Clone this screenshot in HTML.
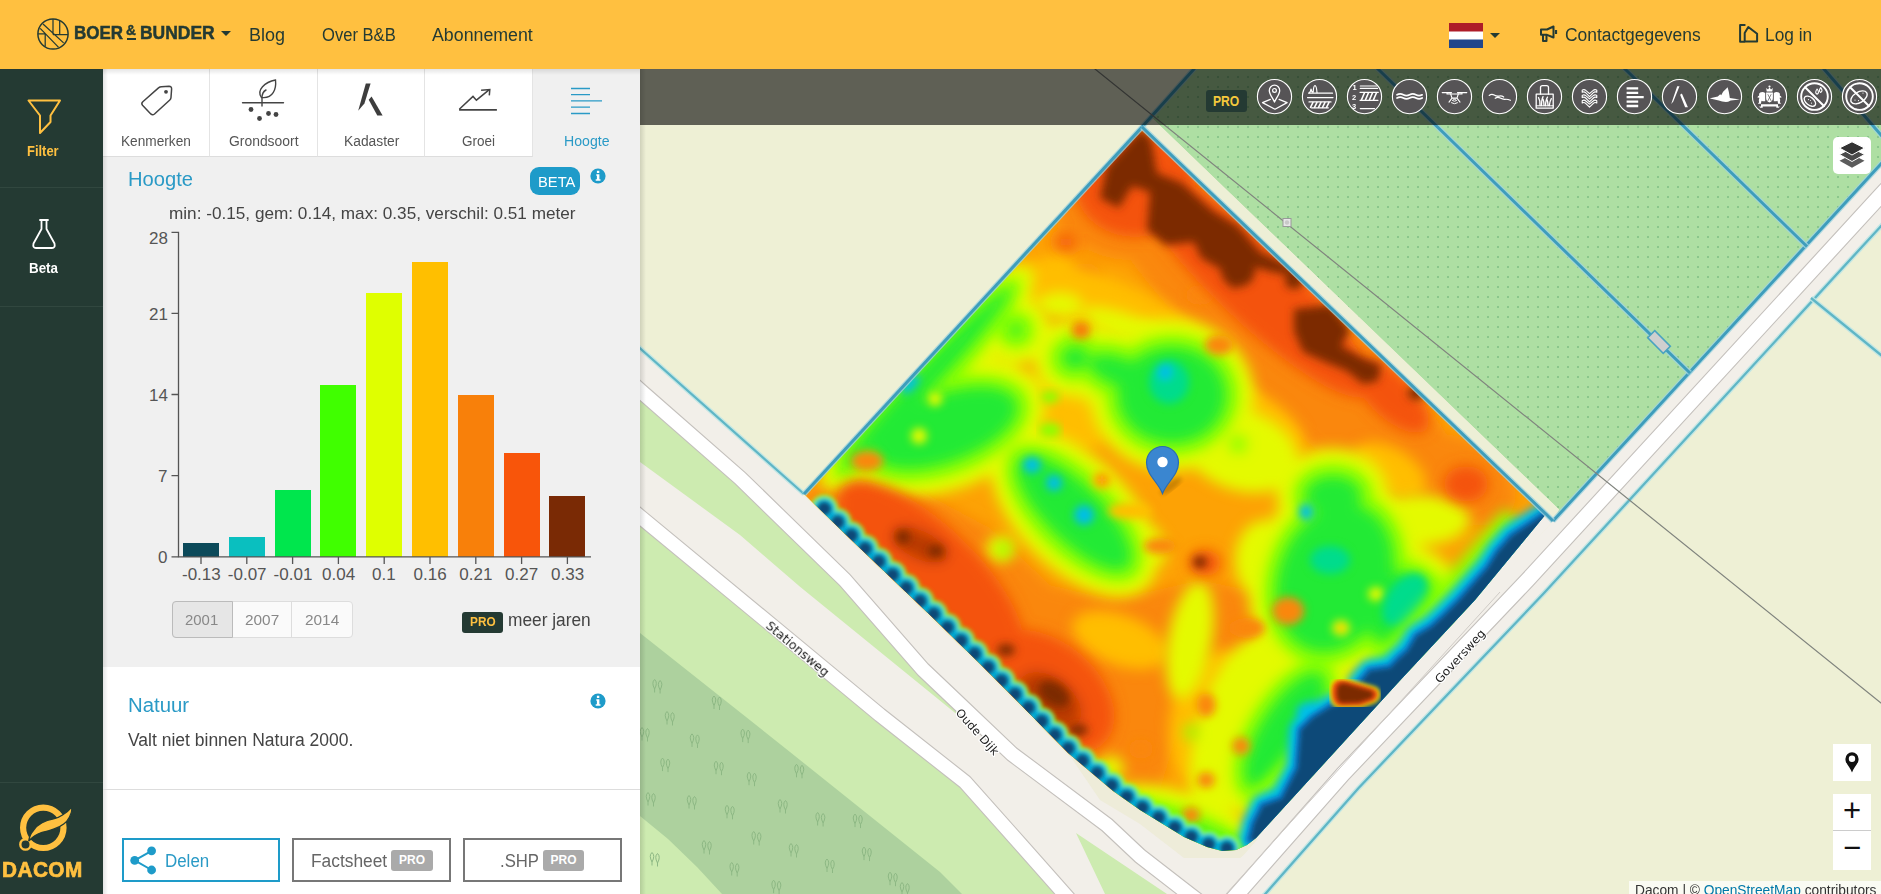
<!DOCTYPE html>
<html lang="nl">
<head>
<meta charset="utf-8">
<title>Boer&amp;Bunder</title>
<style>
*{box-sizing:border-box;margin:0;padding:0}
html,body{width:1881px;height:894px;overflow:hidden;background:#fff;font-family:"Liberation Sans",sans-serif;color:#444}
.abs{position:absolute}
.t{position:absolute;white-space:nowrap;line-height:1;transform-origin:0 0}
#hdr{position:absolute;left:0;top:0;width:1881px;height:69px;background:#FFC040;z-index:5}
#hdr .t{color:#243A33;font-size:18px}
#side{position:absolute;left:0;top:69px;width:103px;height:825px;background:#243A33}
#side .sep{position:absolute;left:0;width:103px;height:1px;background:#31473F}
#panel{position:absolute;left:103px;top:69px;width:537px;height:825px;background:#fff;overflow:hidden}
.tab{position:absolute;top:0;height:88px;width:107.4px;background:#fff;border-bottom:1px solid #ddd;border-right:1px solid #e4e4e4}
.tab.act{background:#F0F0F0;border:none}
.tab .t{font-size:14px;color:#555}
.tab.act .t{color:#2A9AC6}
#hoogte{position:absolute;left:0;top:88px;width:537px;height:510px;background:#F0F0F0}
.blue{color:#2A9AC6}
.axl{font-size:17px;color:#555}
#map{position:absolute;left:640px;top:69px;width:1241px;height:825px;overflow:hidden;background:#EEF0D5}
.btn{position:absolute;top:768.5px;height:44px;border:2px solid #777;background:#fff}
.pro2{position:absolute;background:#aaa;color:#fff;font-weight:bold;font-size:12px;border-radius:3px;height:21px;line-height:21px;text-align:center}
</style>
</head>
<body>

<!-- ================= HEADER ================= -->
<div id="hdr">
  <svg class="abs" style="left:36px;top:16.5px" width="34" height="34" viewBox="-17 -17 34 34" fill="none" stroke="#243A33" stroke-width="1.25">
    <circle cx="0" cy="0" r="15.1" stroke-width="1.5"/>
    <path d="M-12.8 -5.6 L5.6 13.4 M-10 -10 L10.6 8.9 M0 -15 V0.5 M6.7 -13.4 V0.5 M0 0.5 H15 M-15 -0.2 H-8.4 M-7.8 0 V12.6"/>
  </svg>
  <span class="t" id="br1" style="left:74.2px;top:24px;font-size:18.6px;font-weight:bold;-webkit-text-stroke:0.5px #243A33;transform:scaleX(0.9119)">BOER</span>
  <span class="t" id="br2" style="left:126.1px;top:23px;font-size:14.5px;font-weight:bold;-webkit-text-stroke:0.4px #243A33;transform:scaleX(0.9443)">&amp;</span>
  <div class="abs" style="left:126.6px;top:38.4px;width:9px;height:1.7px;background:#243A33"></div>
  <span class="t" id="br3" style="left:139.5px;top:24px;font-size:18.6px;font-weight:bold;-webkit-text-stroke:0.5px #243A33;transform:scaleX(0.9391)">BUNDER</span>
  <svg class="abs" style="left:221px;top:31px" width="10" height="5"><path d="M0 0h10l-5 5z" fill="#243A33"/></svg>
  <span class="t" id="n1" style="left:249.2px;top:26.0px;transform:scaleX(0.9991)">Blog</span>
  <span class="t" id="n2" style="left:321.6px;top:26.0px;transform:scaleX(0.9209)">Over B&amp;B</span>
  <span class="t" id="n3" style="left:431.9px;top:26.0px;transform:scaleX(0.9875)">Abonnement</span>

  <svg class="abs" style="left:1449px;top:23px" width="34" height="25"><rect width="34" height="9" fill="#AE1C28"/><rect y="8.5" width="34" height="8.5" fill="#fff"/><rect y="16.5" width="34" height="8.5" fill="#21468B"/></svg>
  <svg class="abs" style="left:1490px;top:33px" width="10" height="5"><path d="M0 0h10l-5 5z" fill="#243A33"/></svg>
  <svg class="abs" style="left:1539px;top:25px" width="19" height="18" viewBox="0 0 19 18" fill="none" stroke="#243A33" stroke-width="2" stroke-linejoin="round">
    <path d="M2 4.5 H8 L14.5 1.5 V12.5 L8 9.8 H2 Z"/><path d="M4 10 V16 H7.5 V10"/><path d="M17 5v4" stroke-width="2.2"/>
  </svg>
  <span class="t" id="n4" style="left:1564.5px;top:26.0px;transform:scaleX(0.9685)">Contactgegevens</span>
  <svg class="abs" style="left:1739px;top:23px" width="20" height="20" viewBox="0 0 20 20" fill="none" stroke="#243A33" stroke-width="2" stroke-linejoin="round" stroke-linecap="round">
    <path d="M5.7 1.9 H1.1 V18.8 H4.7"/><path d="M5.7 18.7 V10 L9.3 4 L18.1 10.8 V18.6 H5.7"/>
  </svg>
  <span class="t" id="n5" style="left:1765.1px;top:26.0px;transform:scaleX(0.9623)">Log in</span>
</div>

<!-- ================= SIDEBAR ================= -->
<div id="side">
  <svg class="abs" style="left:26px;top:29px" width="37" height="37" viewBox="0 0 37 37" fill="none" stroke="#FFC040" stroke-width="2" stroke-linejoin="round">
    <path d="M2.5 2.5 H34 L24.5 17.5 V24 L14 35 V17.5 Z"/>
  </svg>
  <span class="t" id="s1" style="left:27.4px;top:75.0px;font-size:14px;font-weight:bold;color:#FFC040;transform:scaleX(0.9230)">Filter</span>
  <div class="sep" style="top:118px"></div>
  <svg class="abs" style="left:31px;top:149px" width="26" height="32" viewBox="0 0 26 32" fill="none" stroke="#fff" stroke-width="1.8" stroke-linejoin="round" stroke-linecap="round">
    <path d="M9 2 H17 M10.5 2 V11 L2.5 25.5 Q1.5 30 5 30 H21 Q24.500 30 23.5 25.5 L15.5 11 V2"/>
  </svg>
  <span class="t" id="s2" style="left:28.8px;top:192px;font-size:14px;font-weight:bold;color:#fff;transform:scaleX(0.9552)">Beta</span>
  <div class="sep" style="top:237px"></div>
  <div class="sep" style="top:713px"></div>
  <svg class="abs" style="left:15px;top:731px" width="62" height="56" viewBox="15 800 62 56">
    <circle cx="43.3" cy="827.8" r="20.2" fill="none" stroke="#FFC040" stroke-width="6.2"/>
    <circle cx="25.5" cy="844.4" r="5.2" fill="#243A33" stroke="#FFC040" stroke-width="2.4"/>
    <path d="M28.7 841.2 C29.5 836 31 833 33.1 831 C36 826.5 38.5 824.5 42.1 822.7 C46 820.5 50 819.5 53.5 818.9 C57 818 60 816.800 62.500 815 C66 812.800 69 810.500 72 806.800 C72.200 811 71.200 814 69.500 817 C68 820 66 822.500 63.700 824 C60.500 826.500 57 828 53.500 829.100 C50 830.500 46 831.500 42.100 832.300 C39 833.200 36.500 834.500 34.400 836.100 C32 837.800 30 839.500 28.700 841.200 Z" fill="#FFC040" stroke="#243A33" stroke-width="1.300"/>
  </svg>
  <span class="t" id="s3" style="left:2.3px;top:791.0px;font-size:21.5px;font-weight:bold;color:#FFC040;-webkit-text-stroke:0.7px #FFC040;letter-spacing:0.5px;transform:scaleX(0.9639)">DACOM</span>
</div>

<!-- ================= PANEL ================= -->
<div id="panel">
  <div class="tab" style="left:0"></div>
  <div class="tab" style="left:107.4px"></div>
  <div class="tab" style="left:214.8px"></div>
  <div class="tab" style="left:322.2px"></div>
  <div class="tab act" style="left:429.6px"></div>
  <div id="hoogte"></div>
  <div class="abs" style="left:0;top:0;width:537px;height:6px;background:linear-gradient(rgba(0,0,0,.10),rgba(0,0,0,0))"></div>
  <div class="abs" style="left:0;top:0;width:5px;height:825px;background:linear-gradient(90deg,rgba(0,0,0,.10),rgba(0,0,0,0))"></div>
</div>


<!-- panel content in page coordinates -->
<div id="pc" class="abs" style="left:0;top:0;width:0;height:0">
  <!-- tab icons -->
  <svg class="abs" style="left:139px;top:83px" width="36" height="34" viewBox="0 0 36 34" fill="none" stroke="#444" stroke-width="1.5" stroke-linejoin="round">
    <path d="M22.5 3.8 L30 3.2 Q32.8 3.2 32.6 6 L32 14.5 Q31.9 16 30.8 17 L15.5 31 Q13.5 32.6 11.8 30.9 L3.500 22.2 Q2 20.400 3.800 18.700 L19.500 4.900 Q20.800 3.900 22.500 3.800 Z"/>
    <circle cx="27" cy="8.8" r="1.9" fill="#444" stroke="none"/>
  </svg>
  <svg class="abs" style="left:241px;top:78px" width="44" height="44" viewBox="0 0 44 44" fill="none" stroke="#444" stroke-width="1.4" stroke-linecap="round">
    <path d="M1.500 24.800 H42.500"/>
    <path d="M21 28 V20 Q21 14 25 12"/>
    <path d="M20.500 19.500 C15 12 24 4 34.500 2 C35.500 11 32 21 20.500 19.500 Z"/>
    <g fill="#444" stroke="none"><circle cx="10" cy="31.500" r="2.400"/><circle cx="27.500" cy="35.500" r="2.400"/><circle cx="35" cy="36.500" r="2.400"/><circle cx="18.500" cy="40.500" r="2.400"/></g>
  </svg>
  <svg class="abs" style="left:356px;top:81px" width="30" height="38" viewBox="356 81 30 38" fill="#3d3d3d">
    <path d="M365.8 83.5 L370.6 83.5 L364.4 103.6 L358.2 110.8 Z"/>
    <path d="M368.7 99.8 L371.6 96.4 L382.6 115.500 L377.300 115.500 Z"/>
  </svg>
  <svg class="abs" style="left:457px;top:86px" width="42" height="28" viewBox="457 86 42 28" fill="none" stroke="#444" stroke-width="1.500" stroke-linejoin="miter">
    <path d="M459.300 109.300 L473 96.400 L476.400 100.200 L489.300 89.700 M481.100 90.200 L489.800 89.500 L489.300 95.400"/><path d="M459.100 109.800 H496.900" stroke-width="1.800"/>
  </svg>
  <svg class="abs" style="left:570px;top:86px" width="34" height="30" viewBox="0 0 34 30" stroke="#2A9AC6" stroke-width="1.3">
    <path d="M1 2.500 H20 M1 8.700 H20 M1 14.900 H32 M1 21.200 H20 M1 27.500 H20"/>
  </svg>
  <span class="t tl" id="t1" style="left:121.1px;top:134.0px;font-size:14px;color:#555;transform:scaleX(0.9763)">Kenmerken</span>
  <span class="t tl" id="t2" style="left:228.7px;top:134.0px;font-size:14px;color:#555;transform:scaleX(0.9922)">Grondsoort</span>
  <span class="t tl" id="t3" style="left:343.6px;top:134.0px;font-size:14px;color:#555;transform:scaleX(0.9867)">Kadaster</span>
  <span class="t tl" id="t4" style="left:462.2px;top:134.0px;font-size:14px;color:#555;transform:scaleX(0.9639)">Groei</span>
  <span class="t tl" id="t5" style="left:563.9px;top:134.0px;font-size:14px;color:#2A9AC6;transform:scaleX(1.0076)">Hoogte</span>

  <!-- Hoogte section -->
  <span class="t blue" id="h1" style="left:128.1px;top:169px;font-size:20px;transform:scaleX(1.0078)">Hoogte</span>
  <div class="abs" style="left:530px;top:167px;width:50px;height:28px;border-radius:9px;background:#1E9BC9"></div>
  <span class="t" id="h2" style="left:537.5px;top:174px;font-size:15px;color:#fff;transform:scaleX(0.9822)">BETA</span>
  <svg class="abs info" style="left:590px;top:168px" width="16" height="16" viewBox="0 0 16 16"><circle cx="8" cy="8" r="7.600" fill="#1E9BC9"/><path d="M6.300 6.300h3.100v5h1.100v1.500H5.700v-1.500h1.200V7.800H6.300z M6.900 2.800h2.400v2.300H6.900z" fill="#fff"/></svg>
  <span class="t" id="h3" style="left:168.7px;top:205px;font-size:17px;color:#444;transform:scaleX(1.0101)">min: -0.15, gem: 0.14, max: 0.35, verschil: 0.51 meter</span>

  <!-- chart -->
  <svg class="abs" style="left:103px;top:225px" width="537" height="370" viewBox="103 225 537 370">
    <g shape-rendering="crispEdges">
      <rect x="183" y="543.400" width="36" height="13.600" fill="#0C4A5A"/>
      <rect x="228.800" y="537.400" width="36" height="19.600" fill="#0ABFBF"/>
      <rect x="274.600" y="489.800" width="36" height="67.200" fill="#00E64D"/>
      <rect x="320.400" y="385.200" width="36" height="171.800" fill="#40FF00"/>
      <rect x="366.200" y="293" width="36" height="264" fill="#DFFF00"/>
      <rect x="412" y="262" width="36" height="295" fill="#FFBF00"/>
      <rect x="457.800" y="394.800" width="36" height="162.200" fill="#F8800A"/>
      <rect x="503.600" y="452.800" width="36" height="104.200" fill="#F8550A"/>
      <rect x="549.400" y="495.800" width="36" height="61.200" fill="#7A2A05"/>
    </g>
    <g stroke="#555" stroke-width="1.3" fill="none">
      <path d="M171.500 232.300 H178.500 V556.800 H591"/>
      <path d="M171.500 313.400 H178.500 M171.500 394.500 H178.500 M171.500 475.600 H178.500 M171.500 556.800 H178.500"/>
      <path d="M201 557 v7 M246.800 557 v7 M292.600 557 v7 M338.400 557 v7 M384.200 557 v7 M430 557 v7 M475.800 557 v7 M521.600 557 v7 M567.400 557 v7"/>
    </g>
  </svg>
  <span class="t axl yl" id="y0" style="left:149px;top:230.0px">28</span>
  <span class="t axl yl" id="y1" style="left:149px;top:306.0px">21</span>
  <span class="t axl yl" id="y2" style="left:149px;top:387.0px">14</span>
  <span class="t axl yl" id="y3" style="left:158px;top:468.0px">7</span>
  <span class="t axl yl" id="y4" style="left:158px;top:549.0px">0</span>
  <span class="t axl xl" id="x0" style="left:182px;top:565.8px">-0.13</span>
  <span class="t axl xl" id="x1" style="left:227.800px;top:565.8px">-0.07</span>
  <span class="t axl xl" id="x2" style="left:273.600px;top:565.8px">-0.01</span>
  <span class="t axl xl" id="x3" style="left:322px;top:565.8px">0.04</span>
  <span class="t axl xl" id="x4" style="left:372px;top:565.8px">0.1</span>
  <span class="t axl xl" id="x5" style="left:413.500px;top:565.8px">0.16</span>
  <span class="t axl xl" id="x6" style="left:459.300px;top:565.8px">0.21</span>
  <span class="t axl xl" id="x7" style="left:505px;top:565.8px">0.27</span>
  <span class="t axl xl" id="x8" style="left:551px;top:565.8px">0.33</span>

  <!-- year buttons -->
  <div class="abs" style="left:172px;top:601px;width:181px;height:37px;border:1px solid #ddd;border-radius:4px;background:#fafafa"></div>
  <div class="abs" style="left:172px;top:601px;width:61px;height:37px;border:1px solid #bbb;border-radius:4px 0 0 4px;background:#E6E6E6"></div>
  <div class="abs" style="left:291px;top:602px;width:1px;height:35px;background:#ddd"></div>
  <span class="t yr" id="yr1" style="left:184.9px;top:613px;font-size:14px;color:#888;transform:scaleX(1.0656)">2001</span>
  <span class="t yr" id="yr2" style="left:244.6px;top:613px;font-size:14px;color:#888;transform:scaleX(1.0977)">2007</span>
  <span class="t yr" id="yr3" style="left:305.0px;top:613px;font-size:14px;color:#888;transform:scaleX(1.0977)">2014</span>
  <div class="abs" style="left:462px;top:612px;width:41px;height:21px;border-radius:3px;background:#243A33"></div>
  <span class="t" id="p1" style="left:470.2px;top:615.1px;font-size:13.5px;font-weight:bold;color:#FFC040;transform:scaleX(0.8747)">PRO</span>
  <span class="t" id="p2" style="left:507.8px;top:611.0px;font-size:18px;color:#444;transform:scaleX(0.9611)">meer jaren</span>

  <!-- Natuur -->
  <span class="t blue" id="na1" style="left:127.7px;top:694.5px;font-size:20px;transform:scaleX(1.0178)">Natuur</span>
  <svg class="abs info" style="left:590px;top:693px" width="16" height="16" viewBox="0 0 16 16"><circle cx="8" cy="8" r="7.600" fill="#1E9BC9"/><path d="M6.300 6.300h3.100v5h1.100v1.500H5.700v-1.500h1.200V7.800H6.300z M6.900 2.800h2.400v2.300H6.900z" fill="#fff"/></svg>
  <span class="t" id="na2" style="left:127.5px;top:730.5px;font-size:18px;color:#444;transform:scaleX(0.9718)">Valt niet binnen Natura 2000.</span>
  <div class="abs" style="left:103px;top:789px;width:537px;height:1px;background:#ddd"></div>

  <!-- buttons -->
  <div class="abs" style="left:122px;top:837.500px;width:158px;height:44px;border:2px solid #1E9BC9;background:#fff"></div>
  <svg class="abs" style="left:129px;top:845px" width="29" height="30" viewBox="0 0 29 30"><g stroke="#1E9BC9" stroke-width="2"><path d="M5.700 15.400 L22.600 5.800 M5.700 15.400 L22.600 25"/></g><g fill="#1E9BC9"><circle cx="5.700" cy="15.400" r="4.400"/><circle cx="22.600" cy="5.800" r="4.400"/><circle cx="22.600" cy="25" r="4.400"/></g></svg>
  <span class="t blue" id="b1" style="left:165.3px;top:851.5px;font-size:18px;transform:scaleX(0.9398)">Delen</span>
  <div class="abs" style="left:292px;top:837.500px;width:159px;height:44px;border:2px solid #777;background:#fff"></div>
  <span class="t" id="b2" style="left:310.7px;top:851.5px;font-size:18px;color:#666;transform:scaleX(0.9640)">Factsheet</span>
  <div class="pro2" style="left:391px;top:850px;width:42px">PRO</div>
  <div class="abs" style="left:463px;top:837.500px;width:159px;height:44px;border:2px solid #777;background:#fff"></div>
  <span class="t" id="b3" style="left:500.0px;top:851.5px;font-size:18px;color:#666;transform:scaleX(0.9282)">.SHP</span>
  <div class="pro2" style="left:543px;top:850px;width:41px">PRO</div>
</div>

<!-- ================= MAP ================= -->
<div id="map"></div>
<!--MAPSVG-->
<svg class="abs" style="left:640px;top:69px" width="1241" height="825" viewBox="640 69 1241 825">
<defs>
<pattern id="dots" width="10" height="10" patternUnits="userSpaceOnUse" x="3" y="2"><rect width="10" height="10" fill="#AEDFA3"/><circle cx="5" cy="5" r="1" fill="#7FC084"/></pattern>
<pattern id="trees" width="92" height="74" patternUnits="userSpaceOnUse" patternTransform="rotate(12)"><g fill="none" stroke="#96BC8B" stroke-width="1"><path d="M10 14 q-4 -7 0 -10 q4 3 0 10 v4 M16 15 q-4 -7 0 -10 q4 3 0 10 v4"/><path d="M56 48 q-4 -7 0 -10 q4 3 0 10 v4 M62 49 q-4 -7 0 -10 q4 3 0 10 v4"/></g></pattern>
<filter id="bl" x="-10%" y="-10%" width="120%" height="120%"><feGaussianBlur stdDeviation="7"/></filter>
<filter id="bl2" x="-10%" y="-10%" width="120%" height="120%"><feGaussianBlur stdDeviation="4"/></filter>
<filter id="bl3" x="-10%" y="-10%" width="120%" height="120%"><feGaussianBlur stdDeviation="2.2"/></filter>
<clipPath id="hc"><path d="M1142.0 127.0 L1546.0 514.0 L1475.0 600.0 L1400.0 680.5 L1256.0 838.0 L1247.0 845.0 L1236.0 850.0 L1222.0 851.0 L1207.0 847.0 L1184.0 837.0 L1140.0 810.0 L1113.0 791.0 L1068.0 753.0 L1024.0 708.0 L979.0 663.0 L934.0 619.0 L889.0 576.0 L845.0 534.0 L804.0 494.0 Z"/></clipPath>
</defs>
<rect x="640" y="69" width="1241" height="825" fill="#EEF0D5"/>
<path d="M610.0 364.0 L640.0 390.4 L740.0 478.0 L844.8 580.0 L923.0 669.5 L952.0 697.0 L1012.0 754.0 L1107.0 825.0 L1140.0 856.0 L1189.0 894.0 L1222.0 919.0 L600 930 L600 361 Z" fill="#CDEBB0"/>
<path d="M640 633 L790 752 L890 832 L940 872 L962 894 L975 910 L735 910 L722 894 L697 867 L668 839 L640 816 L600 786 L600 610 Z" fill="#ADD19E"/>
<g fill="none" stroke="#8DB884" stroke-width="1"><path d="M654.6 689.0 q-3.500 -6.500 0 -9.500 q3.500 3 0 9.500 v3.500 m5.500 -2.500 q-3.500 -6.500 0 -9.500 q3.500 3 0 9.500 v3.500"/><path d="M714.0 705.5 q-3.500 -6.500 0 -9.500 q3.500 3 0 9.500 v3.500 m5.500 -2.500 q-3.500 -6.500 0 -9.500 q3.500 3 0 9.500 v3.500"/><path d="M667.0 721.0 q-3.500 -6.500 0 -9.500 q3.500 3 0 9.500 v3.500 m5.500 -2.500 q-3.500 -6.500 0 -9.500 q3.500 3 0 9.500 v3.500"/><path d="M742.7 738.6 q-3.500 -6.500 0 -9.500 q3.500 3 0 9.500 v3.500 m5.500 -2.500 q-3.500 -6.500 0 -9.500 q3.500 3 0 9.500 v3.500"/><path d="M692.0 743.4 q-3.500 -6.500 0 -9.500 q3.500 3 0 9.500 v3.500 m5.500 -2.500 q-3.500 -6.500 0 -9.500 q3.500 3 0 9.500 v3.500"/><path d="M662.5 767.6 q-3.500 -6.500 0 -9.500 q3.500 3 0 9.500 v3.500 m5.500 -2.500 q-3.500 -6.500 0 -9.500 q3.500 3 0 9.500 v3.500"/><path d="M716.0 770.7 q-3.500 -6.500 0 -9.500 q3.500 3 0 9.500 v3.500 m5.500 -2.500 q-3.500 -6.500 0 -9.500 q3.500 3 0 9.500 v3.500"/><path d="M749.0 781.7 q-3.500 -6.500 0 -9.500 q3.500 3 0 9.500 v3.500 m5.500 -2.500 q-3.500 -6.500 0 -9.500 q3.500 3 0 9.500 v3.500"/><path d="M796.5 773.8 q-3.500 -6.500 0 -9.500 q3.500 3 0 9.500 v3.500 m5.500 -2.500 q-3.500 -6.500 0 -9.500 q3.500 3 0 9.500 v3.500"/><path d="M648.0 802.0 q-3.500 -6.500 0 -9.500 q3.500 3 0 9.500 v3.500 m5.500 -2.500 q-3.500 -6.500 0 -9.500 q3.500 3 0 9.500 v3.500"/><path d="M689.0 805.0 q-3.500 -6.500 0 -9.500 q3.500 3 0 9.500 v3.500 m5.500 -2.500 q-3.500 -6.500 0 -9.500 q3.500 3 0 9.500 v3.500"/><path d="M727.0 814.8 q-3.500 -6.500 0 -9.500 q3.500 3 0 9.500 v3.500 m5.500 -2.500 q-3.500 -6.500 0 -9.500 q3.500 3 0 9.500 v3.500"/><path d="M780.0 809.0 q-3.500 -6.500 0 -9.500 q3.500 3 0 9.500 v3.500 m5.500 -2.500 q-3.500 -6.500 0 -9.500 q3.500 3 0 9.500 v3.500"/><path d="M817.6 822.0 q-3.500 -6.500 0 -9.500 q3.500 3 0 9.500 v3.500 m5.500 -2.500 q-3.500 -6.500 0 -9.500 q3.500 3 0 9.500 v3.500"/><path d="M855.0 823.6 q-3.500 -6.500 0 -9.500 q3.500 3 0 9.500 v3.500 m5.500 -2.500 q-3.500 -6.500 0 -9.500 q3.500 3 0 9.500 v3.500"/><path d="M704.0 850.0 q-3.500 -6.500 0 -9.500 q3.500 3 0 9.500 v3.500 m5.500 -2.500 q-3.500 -6.500 0 -9.500 q3.500 3 0 9.500 v3.500"/><path d="M753.7 841.0 q-3.500 -6.500 0 -9.500 q3.500 3 0 9.500 v3.500 m5.500 -2.500 q-3.500 -6.500 0 -9.500 q3.500 3 0 9.500 v3.500"/><path d="M791.0 853.0 q-3.500 -6.500 0 -9.500 q3.500 3 0 9.500 v3.500 m5.500 -2.500 q-3.500 -6.500 0 -9.500 q3.500 3 0 9.500 v3.500"/><path d="M864.0 856.6 q-3.500 -6.500 0 -9.500 q3.500 3 0 9.500 v3.500 m5.500 -2.500 q-3.500 -6.500 0 -9.500 q3.500 3 0 9.500 v3.500"/><path d="M731.7 872.0 q-3.500 -6.500 0 -9.500 q3.500 3 0 9.500 v3.500 m5.500 -2.500 q-3.500 -6.500 0 -9.500 q3.500 3 0 9.500 v3.500"/><path d="M827.0 868.5 q-3.500 -6.500 0 -9.500 q3.500 3 0 9.500 v3.500 m5.500 -2.500 q-3.500 -6.500 0 -9.500 q3.500 3 0 9.500 v3.500"/><path d="M890.0 881.7 q-3.500 -6.500 0 -9.500 q3.500 3 0 9.500 v3.500 m5.500 -2.500 q-3.500 -6.500 0 -9.500 q3.500 3 0 9.500 v3.500"/><path d="M773.6 889.7 q-3.500 -6.500 0 -9.500 q3.500 3 0 9.500 v3.500 m5.500 -2.500 q-3.500 -6.500 0 -9.500 q3.500 3 0 9.500 v3.500"/><path d="M652.0 862.0 q-3.500 -6.500 0 -9.500 q3.500 3 0 9.500 v3.500 m5.500 -2.500 q-3.500 -6.500 0 -9.500 q3.500 3 0 9.500 v3.500"/><path d="M642.0 737.0 q-3.500 -6.500 0 -9.500 q3.500 3 0 9.500 v3.500 m5.500 -2.500 q-3.500 -6.500 0 -9.500 q3.500 3 0 9.500 v3.500"/><path d="M902.0 892.0 q-3.500 -6.500 0 -9.500 q3.500 3 0 9.500 v3.500 m5.500 -2.500 q-3.500 -6.500 0 -9.500 q3.500 3 0 9.500 v3.500"/></g>
<path d="M610.0 440.0 L640.0 462.0 L740.0 535.0 L800.0 586.7 L954.0 712.0 L1009.5 757.1 L1104.5 828.1 L1137.4 859.1 L1186.6 897.2 L1219.6 922.2 L1092.0 925.0 L1064.5 894.0 L1022.0 846.0 L965.0 782.0 L880.0 715.0 L772.0 625.5 L640.0 516.5 L610.0 492.0 Z" fill="#F2EFE9"/>
<path d="M1076 833 L1105 894 L1112 910 L1180 910 L1167 894 Z" fill="#CDEBB0"/>
<path d="M614.0 359.5 L644.0 385.9 L744.1 473.6 L849.1 575.9 L927.4 665.4 L956.1 692.6 L1015.8 749.4 L1110.7 820.3 L1143.9 851.4 L1192.7 889.2 L1225.6 914.2 L1232 900 L1343 774 L1254 836 L1236 852 L1207 849 L1184 839 L1140 812 L1113 793 L1068 755 L979 665 L889 578 L804 496 L640 349 L610 322 Z" fill="#F2EFE9"/>
<path d="M1068 753 L1113 791 L1140 810 L1184 837 L1207 847 L1222 851 L1236 850 L1254 836 L1262 843 L1240 858 L1184 858 L1140 824 L1100 800 Z" fill="#EEECD9"/>
<path d="M1189.4 916.0 L1216.3 886.1 L1327.6 759.8 L1512.1 565.7 L1865.5 180.8 L1904.5 138.3 L1935.5 166.7 L1896.5 209.2 L1542.9 594.3 L1358.4 788.2 L1247.7 913.9 L1220.6 944.0 Z" fill="#F2EFE9"/>
<path d="M1194.0 69.0 L1158.0 108.0 L1151.3 117.3 L1559.0 509.5 L1553.0 521.0 L1865.5 180.8 L1904.5 138.3 L1920.0 69.0 Z" fill="url(#dots)"/>
<path d="M1142.0 127.0 L1546.0 514.0 L1553.0 521.0 L1559.0 509.5 L1151.3 117.3 L1158.0 108.0 L1146.0 121.0 Z" fill="#EDEFD6"/>
<path d="M610.0 492.0 L640.0 516.5 L772.0 625.5 L880.0 715.0 L965.0 782.0 L1022.0 846.0 L1064.5 894.0 L1092.0 925.0" fill="none" stroke="#C4C0BC" stroke-width="15.7" stroke-linejoin="round"/>
<path d="M610.0 492.0 L640.0 516.5 L772.0 625.5 L880.0 715.0 L965.0 782.0 L1022.0 846.0 L1064.5 894.0 L1092.0 925.0" fill="none" stroke="#FFFFFF" stroke-width="13.5" stroke-linejoin="round"/>
<path d="M610.0 364.0 L640.0 390.4 L740.0 478.0 L844.8 580.0 L923.0 669.5 L952.0 697.0 L1012.0 754.0 L1107.0 825.0 L1140.0 856.0 L1189.0 894.0 L1222.0 919.0" fill="none" stroke="#C4C0BC" stroke-width="16.2" stroke-linejoin="round"/>
<path d="M610.0 364.0 L640.0 390.4 L740.0 478.0 L844.8 580.0 L923.0 669.5 L952.0 697.0 L1012.0 754.0 L1107.0 825.0 L1140.0 856.0 L1189.0 894.0 L1222.0 919.0" fill="none" stroke="#FFFFFF" stroke-width="14.0" stroke-linejoin="round"/>
<path d="M1205.0 930.0 L1232.0 900.0 L1343.0 774.0 L1527.5 580.0 L1881.0 195.0 L1920.0 152.5" fill="none" stroke="#C4C0BC" stroke-width="16.7" stroke-linejoin="round"/>
<path d="M1205.0 930.0 L1232.0 900.0 L1343.0 774.0 L1527.5 580.0 L1881.0 195.0 L1920.0 152.5" fill="none" stroke="#FFFFFF" stroke-width="14.5" stroke-linejoin="round"/>
<path d="M1226 894 L1300 812 L1500 592" fill="none" stroke="#CFCBC6" stroke-width="1"/>
<path d="M620.0 330.5 L640.0 348.3 L804.0 494.0" fill="none" stroke="#BFE6E4" stroke-width="4.9" stroke-opacity="0.9"/>
<path d="M620.0 330.5 L640.0 348.3 L804.0 494.0" fill="none" stroke="#5FB6C6" stroke-width="2.3"/>
<path d="M1142.0 127.0 L1194.0 69.0 L1210.0 51.0" fill="none" stroke="#9FD3DE" stroke-width="5.3" stroke-opacity="0.8"/>
<path d="M1142.0 127.0 L1194.0 69.0 L1210.0 51.0" fill="none" stroke="#3E9DBC" stroke-width="2.9"/>
<path d="M1553.0 521.0 L1865.5 180.8 L1904.5 138.3" fill="none" stroke="#9FD3DE" stroke-width="5.3" stroke-opacity="0.8"/>
<path d="M1553.0 521.0 L1865.5 180.8 L1904.5 138.3" fill="none" stroke="#3E9DBC" stroke-width="2.9"/>
<path d="M1220.6 944.0 L1247.7 913.9 L1358.4 788.2 L1542.9 594.3 L1896.5 209.2 L1935.5 166.7" fill="none" stroke="#BFE6E4" stroke-width="4.9" stroke-opacity="0.9"/>
<path d="M1220.6 944.0 L1247.7 913.9 L1358.4 788.2 L1542.9 594.3 L1896.5 209.2 L1935.5 166.7" fill="none" stroke="#5FB6C6" stroke-width="2.3"/>
<path d="M1360.0 51.0 L1378.0 69.0 L1690.0 373.0" fill="none" stroke="#9FD3DE" stroke-width="5.3" stroke-opacity="0.8"/>
<path d="M1360.0 51.0 L1378.0 69.0 L1690.0 373.0" fill="none" stroke="#3E9DBC" stroke-width="2.9"/>
<path d="M1607.0 51.0 L1625.0 69.0 L1807.0 246.5" fill="none" stroke="#9FD3DE" stroke-width="5.3" stroke-opacity="0.8"/>
<path d="M1607.0 51.0 L1625.0 69.0 L1807.0 246.5" fill="none" stroke="#3E9DBC" stroke-width="2.9"/>
<path d="M1808.0 51.0 L1824.0 69.0 L1881.0 135.0 L1900.0 157.0" fill="none" stroke="#9FD3DE" stroke-width="5.3" stroke-opacity="0.8"/>
<path d="M1808.0 51.0 L1824.0 69.0 L1881.0 135.0 L1900.0 157.0" fill="none" stroke="#3E9DBC" stroke-width="2.9"/>
<path d="M1811.0 298.0 L1881.0 355.0 L1900.0 370.0" fill="none" stroke="#BFE6E4" stroke-width="4.9" stroke-opacity="0.9"/>
<path d="M1811.0 298.0 L1881.0 355.0 L1900.0 370.0" fill="none" stroke="#5FB6C6" stroke-width="2.3"/>
<g transform="translate(1659 342) rotate(45)"><rect x="-11" y="-5" width="22" height="10" fill="#CFCFCF" stroke="#4AA3C0" stroke-width="1.6"/></g>
<path d="M1073 51 L1095 69 L1881 703 L1900 718" fill="none" stroke="#80847E" stroke-width="1.2"/>
<rect x="1283" y="218.500" width="8" height="8" fill="#E6E6E6" stroke="#9A9A9A" stroke-width="1"/>
<circle cx="1287" cy="222.500" r="2.200" fill="#C8C8C8"/>
<path d="M1546 514 L1553 521 L1264 845 L1254 836 Z" fill="#F2EFE9"/>
<g clip-path="url(#hc)">
<rect x="790" y="120" width="780" height="740" fill="#FDA205"/>
<g filter="url(#bl)">
<ellipse cx="1280" cy="335" rx="270" ry="62" fill="#FA870A" transform="rotate(44 1280 335)"/>
<ellipse cx="1130" cy="190" rx="80" ry="70" fill="#FA870A"/>
<path d="M800 497 L867 458 L915 488 L990 528 L1050 585 L1113 600 L1200 580 L1295 600 L1300 640 L1260 662 L1200 700 L1175 740 L1160 790 L1120 800 L1060 760 Z" fill="#FA870A"/>
<ellipse cx="1460" cy="480" rx="60" ry="40" fill="#FA870A" transform="rotate(30 1460 480)"/>
<ellipse cx="1066" cy="242" rx="16" ry="14" fill="#FA870A"/>
<ellipse cx="1085" cy="277" rx="16" ry="14" fill="#FA870A"/>
<ellipse cx="1031" cy="298" rx="14" ry="12" fill="#FA870A"/>
<ellipse cx="1000" cy="314" rx="12" ry="10" fill="#FA870A"/>
</g>
<g filter="url(#bl)">
<ellipse cx="1050" cy="415" rx="70" ry="42" fill="#FFBE00"/>
<ellipse cx="1115" cy="312" rx="105" ry="30" fill="#FFBE00" transform="rotate(24 1115 312)"/>
<ellipse cx="1040" cy="285" rx="40" ry="22" fill="#FFBE00" transform="rotate(-40 1040 285)"/>
<ellipse cx="1130" cy="328" rx="50" ry="12" fill="#E4FA00" transform="rotate(20 1130 328)"/>
<ellipse cx="1060" cy="305" rx="22" ry="12" fill="#E4FA00"/>
<ellipse cx="972" cy="361" rx="26" ry="24" fill="#FFBE00"/>
<ellipse cx="1215" cy="720" rx="45" ry="70" fill="#FFBE00" transform="rotate(10 1215 720)"/>
<ellipse cx="1120" cy="640" rx="50" ry="25" fill="#FFBE00" transform="rotate(20 1120 640)"/>
<ellipse cx="1250" cy="420" rx="60" ry="28" fill="#FFBE00" transform="rotate(30 1250 420)"/>
<ellipse cx="1390" cy="470" rx="40" ry="22" fill="#FFBE00" transform="rotate(30 1390 470)"/>
</g>
<g filter="url(#bl)">
<ellipse cx="927" cy="378" rx="151" ry="39" fill="#E4FA00" transform="rotate(-47 927 378)"/>
<ellipse cx="945" cy="428" rx="104" ry="62" fill="#E4FA00" transform="rotate(-20 945 428)"/>
<ellipse cx="1075" cy="358" rx="41" ry="39" fill="#E4FA00"/>
<ellipse cx="1016" cy="330" rx="34" ry="34" fill="#E4FA00"/>
<ellipse cx="1172" cy="395" rx="82" ry="76" fill="#E4FA00"/>
<ellipse cx="1120" cy="372" rx="61" ry="42" fill="#E4FA00" transform="rotate(20 1120 372)"/>
<ellipse cx="1074" cy="513" rx="104" ry="56" fill="#E4FA00" transform="rotate(45 1074 513)"/>
<ellipse cx="1333" cy="496" rx="56" ry="48" fill="#E4FA00"/>
<ellipse cx="1335" cy="578" rx="84" ry="104" fill="#E4FA00" transform="rotate(20 1335 578)"/>
<ellipse cx="1400" cy="610" rx="66" ry="66" fill="#E4FA00"/>
<ellipse cx="1285" cy="730" rx="52" ry="94" fill="#E4FA00" transform="rotate(32 1285 730)"/>
<ellipse cx="1185" cy="832" rx="94" ry="38" fill="#E4FA00" transform="rotate(20 1185 832)"/>
<ellipse cx="1240" cy="450" rx="60" ry="40" fill="#E4FA00" transform="rotate(20 1240 450)"/>
<ellipse cx="1130" cy="540" rx="40" ry="25" fill="#E4FA00" transform="rotate(30 1130 540)"/>
<ellipse cx="1190" cy="640" rx="22" ry="60" fill="#E4FA00" transform="rotate(10 1190 640)"/>
<ellipse cx="1238" cy="725" rx="40" ry="95" fill="#E4FA00" transform="rotate(18 1238 725)"/>
<ellipse cx="1265" cy="560" rx="30" ry="40" fill="#E4FA00"/>
<ellipse cx="1110" cy="768" rx="14" ry="12" fill="#E4FA00"/>
<ellipse cx="1000" cy="549" rx="14" ry="13" fill="#E4FA00"/>
<ellipse cx="1420" cy="520" rx="50" ry="25" fill="#E4FA00"/>
</g>
<g filter="url(#bl)">
<ellipse cx="927" cy="378" rx="136" ry="24" fill="#8CFF00" transform="rotate(-47 927 378)"/>
<ellipse cx="945" cy="428" rx="89" ry="47" fill="#8CFF00" transform="rotate(-20 945 428)"/>
<ellipse cx="1075" cy="358" rx="26" ry="24" fill="#8CFF00"/>
<ellipse cx="1016" cy="330" rx="19" ry="19" fill="#8CFF00"/>
<ellipse cx="1172" cy="395" rx="67" ry="61" fill="#8CFF00"/>
<ellipse cx="1120" cy="372" rx="46" ry="27" fill="#8CFF00" transform="rotate(20 1120 372)"/>
<ellipse cx="1074" cy="513" rx="89" ry="41" fill="#8CFF00" transform="rotate(45 1074 513)"/>
<ellipse cx="1333" cy="496" rx="41" ry="33" fill="#8CFF00"/>
<ellipse cx="1335" cy="578" rx="69" ry="89" fill="#8CFF00" transform="rotate(20 1335 578)"/>
<ellipse cx="1400" cy="610" rx="51" ry="51" fill="#8CFF00"/>
<ellipse cx="1285" cy="730" rx="37" ry="79" fill="#8CFF00" transform="rotate(32 1285 730)"/>
<ellipse cx="1185" cy="832" rx="79" ry="23" fill="#8CFF00" transform="rotate(20 1185 832)"/>
<ellipse cx="1004" cy="549" rx="7" ry="7" fill="#8CFF00"/>
<ellipse cx="1191" cy="732" rx="7" ry="7" fill="#8CFF00"/>
<ellipse cx="1238" cy="444" rx="9" ry="9" fill="#8CFF00"/>
<ellipse cx="985" cy="330" rx="8" ry="8" fill="#8CFF00"/>
</g>
<g filter="url(#bl)">
<ellipse cx="927" cy="378" rx="123" ry="11" fill="#20EA34" transform="rotate(-47 927 378)"/>
<ellipse cx="945" cy="428" rx="76" ry="34" fill="#20EA34" transform="rotate(-20 945 428)"/>
<ellipse cx="1075" cy="358" rx="13" ry="11" fill="#20EA34"/>
<ellipse cx="1016" cy="330" rx="6" ry="6" fill="#20EA34"/>
<ellipse cx="1172" cy="395" rx="54" ry="48" fill="#20EA34"/>
<ellipse cx="1120" cy="372" rx="33" ry="14" fill="#20EA34" transform="rotate(20 1120 372)"/>
<ellipse cx="1074" cy="513" rx="76" ry="28" fill="#20EA34" transform="rotate(45 1074 513)"/>
<ellipse cx="1333" cy="496" rx="28" ry="20" fill="#20EA34"/>
<ellipse cx="1335" cy="578" rx="56" ry="76" fill="#20EA34" transform="rotate(20 1335 578)"/>
<ellipse cx="1400" cy="610" rx="38" ry="38" fill="#20EA34"/>
<ellipse cx="1285" cy="730" rx="24" ry="66" fill="#20EA34" transform="rotate(32 1285 730)"/>
<ellipse cx="1185" cy="832" rx="66" ry="10" fill="#20EA34" transform="rotate(20 1185 832)"/>
</g>
<g filter="url(#bl2)">
<ellipse cx="935" cy="399" rx="7" ry="7" fill="#E4FA00"/>
<ellipse cx="919" cy="436" rx="8" ry="8" fill="#E4FA00"/>
<ellipse cx="1102" cy="480" rx="10" ry="9" fill="#FFBE00"/>
<ellipse cx="1102" cy="480" rx="5" ry="5" fill="#FA870A"/>
<ellipse cx="1130" cy="511" rx="22" ry="8" fill="#FFBE00"/>
<ellipse cx="1160" cy="546" rx="16" ry="8" fill="#FA870A"/>
<ellipse cx="1341" cy="628" rx="9" ry="8" fill="#E4FA00"/>
<ellipse cx="1376" cy="594" rx="8" ry="7" fill="#E4FA00"/>
<ellipse cx="1341" cy="628" rx="4" ry="4" fill="#FFBE00"/>
<ellipse cx="1288" cy="611" rx="16" ry="14" fill="#FA870A"/>
<ellipse cx="1247" cy="628" rx="18" ry="10" fill="#FA870A"/>
<ellipse cx="1206" cy="705" rx="10" ry="12" fill="#FA870A"/>
<ellipse cx="1241" cy="746" rx="9" ry="9" fill="#FA870A"/>
<ellipse cx="1206" cy="780" rx="9" ry="8" fill="#FA870A"/>
<ellipse cx="1191" cy="815" rx="9" ry="8" fill="#FA870A"/>
<ellipse cx="1141" cy="749" rx="12" ry="10" fill="#FA870A"/>
<ellipse cx="1081" cy="330" rx="9" ry="8" fill="#FA870A"/>
<ellipse cx="1200" cy="295" rx="14" ry="10" fill="#FA870A"/>
<ellipse cx="1219" cy="345" rx="14" ry="10" fill="#FA870A"/>
<ellipse cx="867" cy="461" rx="16" ry="10" fill="#FA870A"/>
<ellipse cx="1050" cy="397" rx="0" ry="0" fill="#FFBE00"/>
</g>
<g filter="url(#bl2)">
<ellipse cx="1050" cy="397" rx="9" ry="6" fill="#8CFF00"/>
<ellipse cx="1050" cy="430" rx="11" ry="7" fill="#8CFF00"/>
</g>
<g filter="url(#bl2)">
<ellipse cx="1169" cy="382" rx="20" ry="22" fill="#00DC8C"/>
<ellipse cx="1405" cy="600" rx="18" ry="30" fill="#00DC8C" transform="rotate(35 1405 600)"/>
<ellipse cx="1330" cy="560" rx="20" ry="14" fill="#00DC8C"/>
<ellipse cx="1032" cy="465" rx="9" ry="8" fill="#00BEE8"/>
<ellipse cx="1054" cy="483" rx="8" ry="8" fill="#00BEE8"/>
<ellipse cx="1084" cy="515" rx="10" ry="10" fill="#00BEE8"/>
<ellipse cx="910" cy="384" rx="12" ry="6" fill="#00BEE8" transform="rotate(-47 910 384)"/>
<ellipse cx="1306" cy="512" rx="7" ry="8" fill="#00BEE8"/>
<ellipse cx="1165" cy="372" rx="7" ry="8" fill="#00BEE8"/>
</g>
<g filter="url(#bl)">
<ellipse cx="1135" cy="185" rx="60" ry="52" fill="#F4520A"/>
<ellipse cx="1250" cy="280" rx="165" ry="38" fill="#F4520A" transform="rotate(44 1250 280)"/>
<ellipse cx="1390" cy="395" rx="50" ry="22" fill="#F4520A" transform="rotate(44 1390 395)"/>
<ellipse cx="1466" cy="484" rx="22" ry="18" fill="#F4520A"/>
<ellipse cx="930" cy="572" rx="122" ry="46" fill="#F4520A" transform="rotate(44 930 572)"/>
<ellipse cx="1048" cy="692" rx="76" ry="50" fill="#F4520A" transform="rotate(40 1048 692)"/>
<ellipse cx="1205" cy="563" rx="16" ry="13" fill="#F4520A"/>
<ellipse cx="1050" cy="700" rx="36" ry="22" fill="#B83A06" transform="rotate(38 1050 700)"/>
<ellipse cx="920" cy="545" rx="30" ry="14" fill="#B83A06" transform="rotate(25 920 545)"/>
<ellipse cx="1066" cy="242" rx="8" ry="7" fill="#F4520A"/>
<ellipse cx="1081" cy="330" rx="5" ry="5" fill="#F4520A"/>
</g>
<g filter="url(#bl2)">
<path d="M1141 129 L1107 167 L1100 198 L1119 208 L1132 186 L1150 192 L1147 230 L1166 245 L1194 242 L1201 258 L1222 270 L1232 289 L1248 283 L1254 267 L1276 273 L1300 277 L1294 268 L1260 252 L1238 226 L1213 211 L1182 183 L1157 173 L1151 139 Z" fill="#7C2B05"/>
<ellipse cx="1238" cy="271" rx="17" ry="16" fill="#7C2B05"/>
<ellipse cx="1294" cy="281" rx="9" ry="8" fill="#7C2B05"/>
<path d="M1294 309 L1331 305 L1350 330 L1341 346 L1363 358 L1381 365 L1378 381 L1363 384 L1347 371 L1325 362 L1303 352 L1294 331 Z" fill="#7C2B05"/>
<ellipse cx="1416" cy="393" rx="8" ry="7" fill="#7C2B05"/>
<ellipse cx="1054" cy="694" rx="17" ry="11" fill="#7C2B05" transform="rotate(35 1054 694)"/>
<ellipse cx="1028" cy="712" rx="12" ry="8" fill="#7C2B05" transform="rotate(40 1028 712)"/>
<ellipse cx="1041" cy="727" rx="9" ry="6" fill="#7C2B05" transform="rotate(40 1041 727)"/>
<ellipse cx="1078" cy="730" rx="10" ry="6" fill="#7C2B05"/>
<ellipse cx="1006" cy="650" rx="9" ry="6" fill="#7C2B05"/>
<ellipse cx="903" cy="537" rx="7" ry="7" fill="#7C2B05"/>
<ellipse cx="936" cy="551" rx="8" ry="6" fill="#7C2B05"/>
<ellipse cx="1200" cy="562" rx="7" ry="6" fill="#7C2B05"/>
</g>
<g filter="url(#bl)"><path d="M1522 524 L1470 585 L1400 662 L1262 818" fill="none" stroke="#8CFF00" stroke-width="46"/><path d="M1528 530 L1474 593 L1404 670 L1266 824" fill="none" stroke="#20EA34" stroke-width="30"/></g>
<g filter="url(#bl2)"><path d="M1548 512 L1530 524 L1512 536 L1498 552 L1488 568 L1460 600 L1444 616 L1432 627 L1417 636 L1408 651 L1400 658 L1390 668 L1370 671 L1360 683 L1378 698 L1332 706 L1313 718 L1301 730 L1298 768 L1282 799 L1263 806 L1254 824 L1250 840 Z" fill="none" stroke="#00BEE8" stroke-width="24" stroke-linejoin="round"/><ellipse cx="1316" cy="712" rx="20" ry="11" fill="#00BEE8"/></g>
<g filter="url(#bl3)"><path d="M1548 512 L1530 524 L1512 536 L1498 552 L1488 568 L1460 600 L1444 616 L1432 627 L1417 636 L1408 651 L1400 658 L1390 668 L1370 671 L1360 683 L1378 698 L1332 706 L1313 718 L1301 730 L1298 768 L1282 799 L1263 806 L1254 824 L1250 840 Z" fill="none" stroke="#0C78C4" stroke-width="9" stroke-linejoin="round"/></g>
<g filter="url(#bl3)"><path d="M1548 512 L1530 524 L1512 536 L1498 552 L1488 568 L1460 600 L1444 616 L1432 627 L1417 636 L1408 651 L1400 658 L1390 668 L1370 671 L1360 683 L1378 698 L1332 706 L1313 718 L1301 730 L1298 768 L1282 799 L1263 806 L1254 824 L1250 840 L1275 845 L1565 520 Z" fill="#0B4A78"/></g>
<g filter="url(#bl3)"><path d="M1334 687 Q1336 680 1345 682 L1374 690.500 Q1379 694 1374 699 L1360 704 L1340 704.500 Q1332 703 1334 687 Z" fill="#E8F000" stroke="#E8F000" stroke-width="8" stroke-linejoin="round"/></g>
<g filter="url(#bl3)"><path d="M1334 687 Q1336 680 1345 682 L1374 690.500 Q1379 694 1374 699 L1360 704 L1340 704.500 Q1332 703 1334 687 Z" fill="#F04A0A" stroke="#F04A0A" stroke-width="3.500" stroke-linejoin="round"/></g>
<path d="M1334 687 Q1336 680 1345 682 L1374 690.500 Q1379 694 1374 699 L1360 704 L1340 704.500 Q1332 703 1334 687 Z" fill="#7C2B05" filter="url(#bl3)" transform="translate(1355 694) scale(0.86) translate(-1355 -694)"/>
<g filter="url(#bl3)">
<circle cx="824.2" cy="508.8" r="14" fill="#8CFF00"/>
<circle cx="837.6" cy="522.2" r="14" fill="#8CFF00"/>
<circle cx="851.2" cy="535.6" r="14" fill="#8CFF00"/>
<circle cx="864.9" cy="548.7" r="14" fill="#8CFF00"/>
<circle cx="878.6" cy="561.8" r="14" fill="#8CFF00"/>
<circle cx="892.4" cy="574.9" r="14" fill="#8CFF00"/>
<circle cx="906.1" cy="588.1" r="14" fill="#8CFF00"/>
<circle cx="919.9" cy="601.2" r="14" fill="#8CFF00"/>
<circle cx="933.6" cy="614.3" r="14" fill="#8CFF00"/>
<circle cx="947.2" cy="627.6" r="14" fill="#8CFF00"/>
<circle cx="960.8" cy="640.9" r="14" fill="#8CFF00"/>
<circle cx="974.4" cy="654.1" r="14" fill="#8CFF00"/>
<circle cx="987.9" cy="667.5" r="14" fill="#8CFF00"/>
<circle cx="1001.3" cy="680.9" r="14" fill="#8CFF00"/>
<circle cx="1014.8" cy="694.4" r="14" fill="#8CFF00"/>
<circle cx="1028.2" cy="707.8" r="14" fill="#8CFF00"/>
<circle cx="1041.5" cy="721.4" r="14" fill="#8CFF00"/>
<circle cx="1054.7" cy="735.0" r="14" fill="#8CFF00"/>
<circle cx="1068.0" cy="748.6" r="14" fill="#8CFF00"/>
<circle cx="1082.3" cy="761.1" r="14" fill="#8CFF00"/>
<circle cx="1096.9" cy="773.3" r="14" fill="#8CFF00"/>
<circle cx="1111.4" cy="785.6" r="14" fill="#8CFF00"/>
<circle cx="1126.6" cy="796.9" r="14" fill="#8CFF00"/>
<circle cx="1142.2" cy="807.8" r="14" fill="#8CFF00"/>
<circle cx="1158.4" cy="817.7" r="14" fill="#8CFF00"/>
<circle cx="1174.6" cy="827.7" r="14" fill="#8CFF00"/>
<circle cx="1191.1" cy="836.9" r="14" fill="#8CFF00"/>
<circle cx="1208.5" cy="844.5" r="14" fill="#8CFF00"/>
<circle cx="1226.9" cy="848.3" r="14" fill="#8CFF00"/>
<circle cx="824.2" cy="508.8" r="11" fill="#00BEE8"/>
<circle cx="837.6" cy="522.2" r="11" fill="#00BEE8"/>
<circle cx="851.2" cy="535.6" r="11" fill="#00BEE8"/>
<circle cx="864.9" cy="548.7" r="11" fill="#00BEE8"/>
<circle cx="878.6" cy="561.8" r="11" fill="#00BEE8"/>
<circle cx="892.4" cy="574.9" r="11" fill="#00BEE8"/>
<circle cx="906.1" cy="588.1" r="11" fill="#00BEE8"/>
<circle cx="919.9" cy="601.2" r="11" fill="#00BEE8"/>
<circle cx="933.6" cy="614.3" r="11" fill="#00BEE8"/>
<circle cx="947.2" cy="627.6" r="11" fill="#00BEE8"/>
<circle cx="960.8" cy="640.9" r="11" fill="#00BEE8"/>
<circle cx="974.4" cy="654.1" r="11" fill="#00BEE8"/>
<circle cx="987.9" cy="667.5" r="11" fill="#00BEE8"/>
<circle cx="1001.3" cy="680.9" r="11" fill="#00BEE8"/>
<circle cx="1014.8" cy="694.4" r="11" fill="#00BEE8"/>
<circle cx="1028.2" cy="707.8" r="11" fill="#00BEE8"/>
<circle cx="1041.5" cy="721.4" r="11" fill="#00BEE8"/>
<circle cx="1054.7" cy="735.0" r="11" fill="#00BEE8"/>
<circle cx="1068.0" cy="748.6" r="11" fill="#00BEE8"/>
<circle cx="1082.3" cy="761.1" r="11" fill="#00BEE8"/>
<circle cx="1096.9" cy="773.3" r="11" fill="#00BEE8"/>
<circle cx="1111.4" cy="785.6" r="11" fill="#00BEE8"/>
<circle cx="1126.6" cy="796.9" r="11" fill="#00BEE8"/>
<circle cx="1142.2" cy="807.8" r="11" fill="#00BEE8"/>
<circle cx="1158.4" cy="817.7" r="11" fill="#00BEE8"/>
<circle cx="1174.6" cy="827.7" r="11" fill="#00BEE8"/>
<circle cx="1191.1" cy="836.9" r="11" fill="#00BEE8"/>
<circle cx="1208.5" cy="844.5" r="11" fill="#00BEE8"/>
<circle cx="1226.9" cy="848.3" r="11" fill="#00BEE8"/>
<circle cx="824.2" cy="508.8" r="7.500" fill="#0B4A78"/>
<circle cx="837.6" cy="522.2" r="7.500" fill="#0B4A78"/>
<circle cx="851.2" cy="535.6" r="7.500" fill="#0B4A78"/>
<circle cx="864.9" cy="548.7" r="7.500" fill="#0B4A78"/>
<circle cx="878.6" cy="561.8" r="7.500" fill="#0B4A78"/>
<circle cx="892.4" cy="574.9" r="7.500" fill="#0B4A78"/>
<circle cx="906.1" cy="588.1" r="7.500" fill="#0B4A78"/>
<circle cx="919.9" cy="601.2" r="7.500" fill="#0B4A78"/>
<circle cx="933.6" cy="614.3" r="7.500" fill="#0B4A78"/>
<circle cx="947.2" cy="627.6" r="7.500" fill="#0B4A78"/>
<circle cx="960.8" cy="640.9" r="7.500" fill="#0B4A78"/>
<circle cx="974.4" cy="654.1" r="7.500" fill="#0B4A78"/>
<circle cx="987.9" cy="667.5" r="7.500" fill="#0B4A78"/>
<circle cx="1001.3" cy="680.9" r="7.500" fill="#0B4A78"/>
<circle cx="1014.8" cy="694.4" r="7.500" fill="#0B4A78"/>
<circle cx="1028.2" cy="707.8" r="7.500" fill="#0B4A78"/>
<circle cx="1041.5" cy="721.4" r="7.500" fill="#0B4A78"/>
<circle cx="1054.7" cy="735.0" r="7.500" fill="#0B4A78"/>
<circle cx="1068.0" cy="748.6" r="7.500" fill="#0B4A78"/>
<circle cx="1082.3" cy="761.1" r="7.500" fill="#0B4A78"/>
<circle cx="1096.9" cy="773.3" r="7.500" fill="#0B4A78"/>
<circle cx="1111.4" cy="785.6" r="7.500" fill="#0B4A78"/>
<circle cx="1126.6" cy="796.9" r="7.500" fill="#0B4A78"/>
<circle cx="1142.2" cy="807.8" r="7.500" fill="#0B4A78"/>
<circle cx="1158.4" cy="817.7" r="7.500" fill="#0B4A78"/>
<circle cx="1174.6" cy="827.7" r="7.500" fill="#0B4A78"/>
<circle cx="1191.1" cy="836.9" r="7.500" fill="#0B4A78"/>
<circle cx="1208.5" cy="844.5" r="7.500" fill="#0B4A78"/>
<circle cx="1226.9" cy="848.3" r="7.500" fill="#0B4A78"/>
</g>
</g>
<ellipse cx="1171" cy="486" rx="13" ry="4" fill="#000" opacity="0.2" transform="rotate(-38 1171 486)" filter="url(#bl3)"/>
<path d="M1162.500 493.500 C1158 482 1146.500 475 1146.500 462.500 A16 16 0 0 1 1178.500 462.500 C1178.500 475 1167 482 1162.500 493.500 Z" fill="#3A86D0" stroke="#2A6CB2" stroke-width="1.200"/>
<circle cx="1162.500" cy="462" r="5.200" fill="#fff"/>
<path d="M804.0 494.0 L1142.0 127.0" fill="none" stroke="#9FD3DE" stroke-width="5.4" stroke-opacity="0.8"/>
<path d="M804.0 494.0 L1142.0 127.0" fill="none" stroke="#3E9DBC" stroke-width="3.0"/>
<path d="M1142.0 127.0 L1546.0 514.0 L1553.0 521.0" fill="none" stroke="#9FD3DE" stroke-width="5.4" stroke-opacity="0.8"/>
<path d="M1142.0 127.0 L1546.0 514.0 L1553.0 521.0" fill="none" stroke="#3E9DBC" stroke-width="3.0"/>
<g font-family="'DejaVu Sans','Liberation Sans',sans-serif" font-size="11.500" fill="#222" stroke="#fff" stroke-width="2.400" paint-order="stroke" stroke-linejoin="round">
<text transform="translate(765 627) rotate(40)" textLength="78" lengthAdjust="spacingAndGlyphs">Stationsweg</text>
<text transform="translate(955 713) rotate(48)" textLength="58" lengthAdjust="spacingAndGlyphs">Oude Dijk</text>
<text transform="translate(1440 684) rotate(-47.500)" textLength="68" lengthAdjust="spacingAndGlyphs">Goversweg</text>
</g>
</svg>
<!--/MAPSVG-->
<!--OVERLAY-->
<div class="abs" id="mapshadow" style="left:640px;top:69px;width:6px;height:825px;background:linear-gradient(90deg,rgba(0,0,0,.13),rgba(0,0,0,0))"></div>
<div class="abs" style="left:640px;top:69px;width:1241px;height:56px;background:rgba(0,0,0,0.6)"></div>
<div class="abs" style="left:1206px;top:90px;width:41px;height:21.500px;border-radius:3px;background:#243A33"></div>
<span class="t" id="mp" style="left:1212.9px;top:94px;font-size:14px;font-weight:bold;color:#F5C93C;transform:scaleX(0.8667)">PRO</span>
<svg class="abs" style="left:1250px;top:74px" width="631" height="46" viewBox="1250 74 631 46" fill="none" stroke="#fff" stroke-linecap="round" stroke-linejoin="round">
<g transform="translate(1274.5 96.6)"><circle r="17.100" fill="#565456" stroke="#fff" stroke-width="1.100"/><path d="M0 5.500 C-2 1 -5.200 -2.500 -5.200 -6.200 A5.200 5.200 0 0 1 5.200 -6.200 C5.200 -2.500 2 1 0 5.500 Z" stroke-width="1.300"/><circle cx="0" cy="-6.200" r="1.900" stroke-width="1.200"/><path d="M-4.200 2.800 L-12 6 L0.500 12.600 L12.600 6 L4.600 2.800" stroke-width="1.300"/></g>
<g transform="translate(1319.5 96.6)"><circle r="17.100" fill="#565456" stroke="#fff" stroke-width="1.100"/><path d="M-10.800 -3.400 H13 M-12 1 H13.500 M-10.500 5.300 H11.500 M-8 11.200 H8.800" stroke-width="1.200"/><path d="M-10.500 -3.600 q1.500 -0.500 2 -4 q0.800 3.500 2.200 3.200 q0.300 -6.500 1.800 -6.500 q1.500 0 2 7" stroke-width="1.200"/><path d="M-6.500 5.800 l-2.500 5 M-2.500 5.800 l-2.500 5 M1.500 5.800 l-2.500 5 M5.500 5.800 l-2.500 5 M9.500 5.800 l-2.500 5" stroke-width="1.500"/></g>
<g transform="translate(1364.5 96.6)"><circle r="17.100" fill="#565456" stroke="#fff" stroke-width="1.100"/><path d="M-4.200 -10.600 H12 M-4.200 -8.200 H13 M-4.500 -4.300 H13.800 M-4.500 3.700 H13.500 M-4.200 12 H10" stroke-width="1.200"/><path d="M0 -3.800 l-3 7 M4 -3.800 l-3 7 M8 -3.800 l-3 7 M12 -3.800 l-3 7" stroke-width="1.600"/><g font-family="'Liberation Sans',sans-serif" font-size="7.500" font-weight="bold" fill="#fff" stroke="none" text-anchor="middle"><text x="-10" y="-6.400">1</text><text x="-10.500" y="3.200">2</text><text x="-10.500" y="12.200">3</text></g></g>
<g transform="translate(1409.5 96.6)"><circle r="17.100" fill="#565456" stroke="#fff" stroke-width="1.100"/><path d="M-12.500 -1.800 q3.200 -1.800 6.300 0 t6.300 0 t6.300 0 t6.300 0 M-12.500 1.400 q3.200 -1.800 6.300 0 t6.300 0 t6.300 0 t6.300 0" stroke-width="1.700"/></g>
<g transform="translate(1454.5 96.6)"><circle r="17.100" fill="#565456" stroke="#fff" stroke-width="1.100"/><path d="M-12.300 -4 H-3 M3 -4 H12.300 M-7.500 -4 V-2.800 M7.500 -4 V-2.800 M-7.500 -2.600 H7.500" stroke-width="1.100"/><path d="M-3.800 -2.600 L-2.500 1.500 H2.500 L3.800 -2.600 M-2.500 1.500 L-5.500 5.500 M2.500 1.500 L5.500 5.500" stroke-width="1.100"/><path d="M-2 4 q2 1.500 4 0 M-3 6.200 q3 2 6 0 M-1.200 2.600 h2.400" stroke-width="1"/></g>
<g transform="translate(1499.5 96.6)"><circle r="17.100" fill="#565456" stroke="#fff" stroke-width="1.100"/><path d="M-10.300 -1.200 q2.500 -1.800 5 -0.300 t5 1 t4.500 0.900 M-4.300 1.700 q2.500 -1.600 5 -0.200 t5 1.200 t5.200 1" stroke-width="1.200"/></g>
<g transform="translate(1544.5 96.6)"><circle r="17.100" fill="#565456" stroke="#fff" stroke-width="1.100"/><rect x="-8.300" y="-2.400" width="17" height="14" stroke-width="1.300"/><path d="M-4 -2.400 V-9 q0 -2 2 -2 h4 q2 0 2 2 V-2.400" stroke-width="1.300"/><path d="M-8.300 9.200 H8.700" stroke-width="1"/><path d="M-4.500 9 q0.500 -5 -1.500 -8 M-3 9 q0 -6 1.500 -9 M-0.500 9 q0 -4 -1 -6.500 M1 9 q0.300 -6 2 -8.500 M3.500 9 q0 -4 -1 -6 M4.800 9 q0.500 -4.500 2 -7" stroke-width="1.300"/></g>
<g transform="translate(1589.5 96.6)"><circle r="17.100" fill="#565456" stroke="#fff" stroke-width="1.100"/><g stroke-width="1.100" fill="#fff"><path d="M-7.300 -6.500 q2 -1.200 3.600 0.300 L0 -3 L3.700 -6.200 q1.600 -1.500 3.600 -0.300 v2.200 q-2 -1 -3.400 0.400 L0 0 L-3.900 -3.900 q-1.400 -1.400 -3.400 -0.400 Z" fill="none"/><path d="M-7.300 -1.200 q2 -1.200 3.600 0.300 L0 2.300 L3.700 -0.900 q1.600 -1.500 3.600 -0.300 v2.200 q-2 -1 -3.400 0.400 L0 5.300 L-3.900 1.400 q-1.400 -1.400 -3.400 -0.400 Z" fill="none"/><path d="M-7.300 4.100 q2 -1.200 3.600 0.300 L0 7.600 L3.700 4.400 q1.600 -1.500 3.600 -0.300 v2.200 q-2 -1 -3.400 0.400 L0 10.600 L-3.900 6.700 q-1.400 -1.400 -3.400 -0.400 Z" fill="none"/></g></g>
<g transform="translate(1634.5 96.6)"><circle r="17.100" fill="#565456" stroke="#fff" stroke-width="1.100"/><path d="M-7.900 -8.200 H3.700 M-7.900 -3.800 H3.700 M-7.900 0.600 H9.200 M-7.900 5 H3.700 M-7.900 9.400 H3.700" stroke-width="2.300" stroke-linecap="butt"/></g>
<g transform="translate(1679.5 96.6)"><circle r="17.100" fill="#565456" stroke="#fff" stroke-width="1.100"/><path d="M-2.300 -10.400 L0 -10.400 L-6.200 5 L-8.300 7.400 Z M0.600 -1.800 L2.400 -3 L8.400 10.600 L5.600 10.600 Z" fill="#fff" stroke="none"/></g>
<g transform="translate(1724.5 96.6)"><circle r="17.100" fill="#565456" stroke="#fff" stroke-width="1.100"/><path d="M-14.400 1.700 L-6.700 0 L-4.300 -2.400 L-3.300 -1.400 L-1.400 -4.800 Q1.500 -7.500 3.100 -9.300 Q4 -6 4.300 -4.800 Q5 -1 5.300 1.400 L15.300 2.900 L6.200 3.800 Q3.500 5.300 1.400 5.500 Q-2.500 5 -5.700 3.800 L-14.400 1.900 Z" fill="#fff" stroke="none"/></g>
<g transform="translate(1769.5 96.6)"><circle r="17.100" fill="#565456" stroke="#fff" stroke-width="1.100"/><g fill="#fff" stroke="none"><circle cx="0" cy="-10" r="1.100"/><path d="M-2.800 -5.200 L-3.300 -8.600 L-1.500 -7.200 L0 -9.200 L1.500 -7.200 L3.300 -8.600 L2.800 -5.200 Z"/><path d="M-3.400 -4.200 H3.400 V1.500 Q3.400 4.800 0 6 Q-3.400 4.800 -3.400 1.500 Z"/><path d="M-4.300 -3.500 q-2.500 -1.800 -5 -0.500 q-1.800 1 -1 3 q-1.500 0.500 -1.800 1.800 l2 0.300 q-1 2 -0.300 4.500 l-1.200 1.500 h3 l0.600 -3 q1.500 1 3.700 0.500 Z"/><path d="M4.300 -3.500 q2.500 -1.800 5 -0.500 q1.800 1 1 3 q1.500 0.500 1.800 1.800 l-2 0.300 q1 2 0.300 4.500 l1.200 1.500 h-3 l-0.600 -3 q-1.500 1 -3.700 0.500 Z"/><path d="M-8.500 7.600 H8.500 V9.800 H10.300 L9.300 11.200 H6.800 V10 H-6.800 V11.200 H-9.300 L-10.300 9.800 H-8.500 Z"/></g><path d="M-1.500 -2 L1.500 4 M1.500 -2 L-1.500 4" stroke="#555" stroke-width="0.700"/></g>
<g transform="translate(1814.5 96.6)"><circle r="17.100" fill="#565456" stroke="#fff" stroke-width="1.100"/><circle r="13.300" stroke-width="1.900"/><path d="M-9.400 -9.400 L9.400 9.400" stroke-width="2"/><ellipse cx="-4.600" cy="4.600" rx="6.600" ry="3.900" transform="rotate(38 -4.600 4.600)" stroke-width="1.300"/><g fill="#fff" stroke="none"><circle cx="-6" cy="3" r="0.600"/><circle cx="-3" cy="6.500" r="0.600"/><circle cx="-4" cy="4" r="0.500"/></g><path d="M2.600 -7.600 q-2.800 3.800 0 5.200 q2.800 -1.400 0 -5.200 Z M6.200 -9 q-2.600 3.400 0 4.800 q2.600 -1.400 0 -4.800 Z" stroke-width="1.100"/></g>
<g transform="translate(1859.5 96.6)"><circle r="17.100" fill="#565456" stroke="#fff" stroke-width="1.100"/><circle r="13.300" stroke-width="1.900"/><path d="M-9.400 -9.400 L9.400 9.400" stroke-width="2"/><ellipse cx="-0.500" cy="0.800" rx="9" ry="5.200" transform="rotate(-32 -0.500 0.800)" stroke-width="1.400"/><g fill="#fff" stroke="none"><circle cx="-4.500" cy="3.500" r="0.600"/><circle cx="-1" cy="4" r="0.600"/><circle cx="3.500" cy="-3.500" r="0.600"/></g></g>
</svg>
<div class="abs" style="left:1833px;top:137px;width:38px;height:37px;background:#fff;border-radius:5px"></div>
<svg class="abs" style="left:1833px;top:137px" width="38" height="37" viewBox="0 0 38 37"><path d="M6.500 23.800 L19 17.500 L31.500 23.800 L19 30.800 Z" fill="#5c5c5c"/><path d="M6.500 17.500 L19 11 L31.500 17.500 L19 24.500 Z" fill="#4a4a4a" stroke="#fff" stroke-width="1"/><path d="M6.500 11 L19 4.800 L31.500 11 L19 18 Z" fill="#333" stroke="#fff" stroke-width="1"/></svg>
<div class="abs" style="left:1833px;top:744px;width:38px;height:37px;background:#fff"></div>
<svg class="abs" style="left:1845px;top:751.500px" width="14" height="21" viewBox="0 0 14 21"><path d="M7 20.500 C5.500 15.500 0.400 12 0.400 6.900 A6.600 6.600 0 0 1 13.600 6.900 C13.600 12 8.500 15.500 7 20.500 Z M7 3.600 A3.200 3.200 0 0 0 7 10 A3.200 3.200 0 0 0 7 3.600 Z" fill="#111" fill-rule="evenodd"/></svg>
<div class="abs" style="left:1833px;top:794px;width:38px;height:75.500px;background:#fff"></div>
<div class="abs" style="left:1833px;top:830px;width:38px;height:1px;background:#ccc"></div>
<span class="t" id="zp" style="left:1843px;top:795px;font-size:31px;color:#111">+</span>
<span class="t" id="zm" style="left:1843px;top:832px;font-size:31px;color:#111">−</span>
<div class="abs" style="left:1629px;top:881px;width:252px;height:20px;background:rgba(255,255,255,0.72)"></div>
<span class="t" id="at" style="left:1635.3px;top:882.500px;font-size:14px;color:#333;transform:scaleX(0.9823)">Dacom | © <span style="color:#0078A8">OpenStreetMap</span> contributors</span>
<!--/OVERLAY-->

</body>
</html>
